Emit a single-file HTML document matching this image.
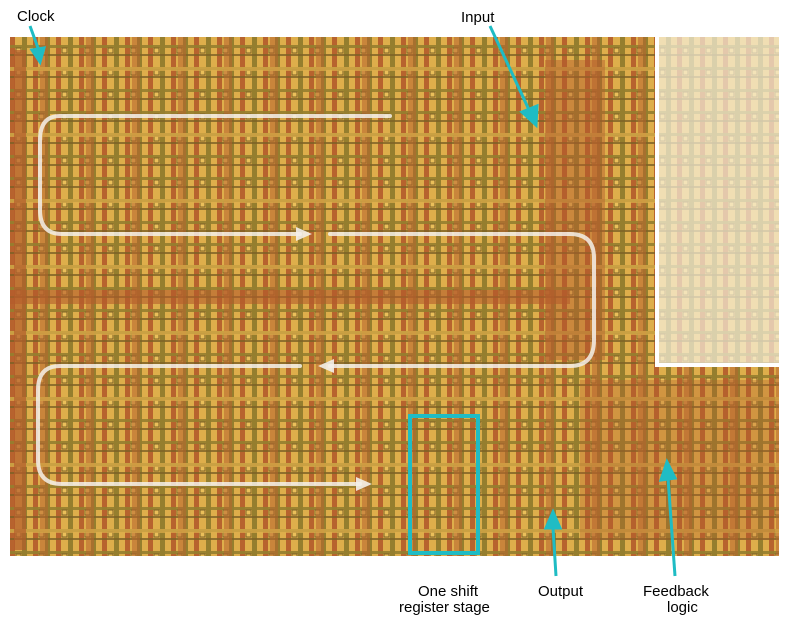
<!DOCTYPE html>
<html><head><meta charset="utf-8"><style>
html,body{margin:0;padding:0;background:#fff;width:789px;height:624px;overflow:hidden}
svg{display:block}
text{font-family:"Liberation Sans",sans-serif;font-size:15px;fill:#000}
</style></head><body>
<svg width="789" height="624" viewBox="0 0 789 624">
<defs>
<pattern id="p" width="23" height="22" patternUnits="userSpaceOnUse" x="10" y="37">
<rect width="23" height="22" fill="#e2b44e"/>
<rect x="0" y="0" width="5" height="22" fill="#b45c2c"/>
<rect x="12" y="0" width="5" height="22" fill="#8c7c2c"/>
<rect x="0" y="8" width="23" height="3" fill="#8c7c2c" opacity="0.9"/>
<rect x="0" y="17" width="23" height="2" fill="#6f5a22" opacity="0.8"/>
<rect x="6" y="11" width="5" height="5" fill="#f0c860" stroke="#6f5a22" stroke-width="1"/>
</pattern>
<pattern id="q" width="46" height="66" patternUnits="userSpaceOnUse" x="10" y="37">
<rect x="30" y="0" width="8" height="66" fill="#b45c2c" opacity="0.55"/>
<rect x="0" y="30" width="46" height="4" fill="#e2b44e" opacity="0.7"/>
</pattern>
</defs>
<rect x="10" y="37" width="769" height="519" fill="url(#p)"/>
<rect x="10" y="37" width="769" height="519" fill="url(#q)"/>
<rect x="10" y="37" width="769" height="519" fill="#c88a3a" opacity="0.15"/>
<!-- left/right red bus areas -->
<rect x="14" y="50" width="12" height="500" fill="#b45c2c" opacity="0.7"/>
<rect x="10" y="290" width="560" height="14" fill="#b45c2c" opacity="0.6"/>
<rect x="545" y="60" width="60" height="300" fill="#b45c2c" opacity="0.45"/>
<rect x="580" y="380" width="195" height="160" fill="#b45c2c" opacity="0.3"/>
<!-- washed overlay region -->
<rect x="655" y="37" width="124" height="330" fill="#fff"/>
<rect x="659" y="37" width="120" height="326" fill="url(#p)"/>
<rect x="659" y="37" width="120" height="326" fill="#f4ecd6" opacity="0.75"/>
<!-- white flow arrows -->
<g fill="none" stroke="#f4f0ea" stroke-width="4" opacity="0.85" stroke-linecap="round">
<path d="M390 116 H60 Q40 116 40 140 V210 Q40 234 62 234 H300"/>
<path d="M330 234 H570 Q594 234 594 258 V340 Q594 366 570 366 H330"/>
<path d="M300 366 H60 Q38 366 38 390 V460 Q38 484 62 484 H360"/>
</g>
<g fill="#f4f0ea" opacity="0.9">
<polygon points="296,227 312,234 296,241"/>
<polygon points="334,359 318,366 334,373"/>
<polygon points="356,477 372,484 356,491"/>
</g>
<!-- stage box -->
<rect x="410" y="416" width="68" height="137" fill="none" stroke="#1fbcc4" stroke-width="4"/>
<!-- cyan arrows -->
<g stroke="#1fbcc4" stroke-width="3" fill="#1fbcc4">
<line x1="30" y1="26" x2="38" y2="48"/><polygon points="32,50 44,48 40,62"/>
<line x1="490" y1="26" x2="530" y2="112"/><polygon points="522,112 537,106 536,125"/>
<line x1="556" y1="576" x2="553" y2="528"/><polygon points="546,528 560,528 553,512"/>
<line x1="675" y1="576" x2="668" y2="478"/><polygon points="661,480 675,478 667,462"/>
</g>
<text x="17" y="21">Clock</text>
<text x="461" y="22">Input</text>
<text x="418" y="596">One shift</text>
<text x="399" y="612">register stage</text>
<text x="538" y="596">Output</text>
<text x="643" y="596">Feedback</text>
<text x="667" y="612">logic</text>
</svg>
</body></html>
